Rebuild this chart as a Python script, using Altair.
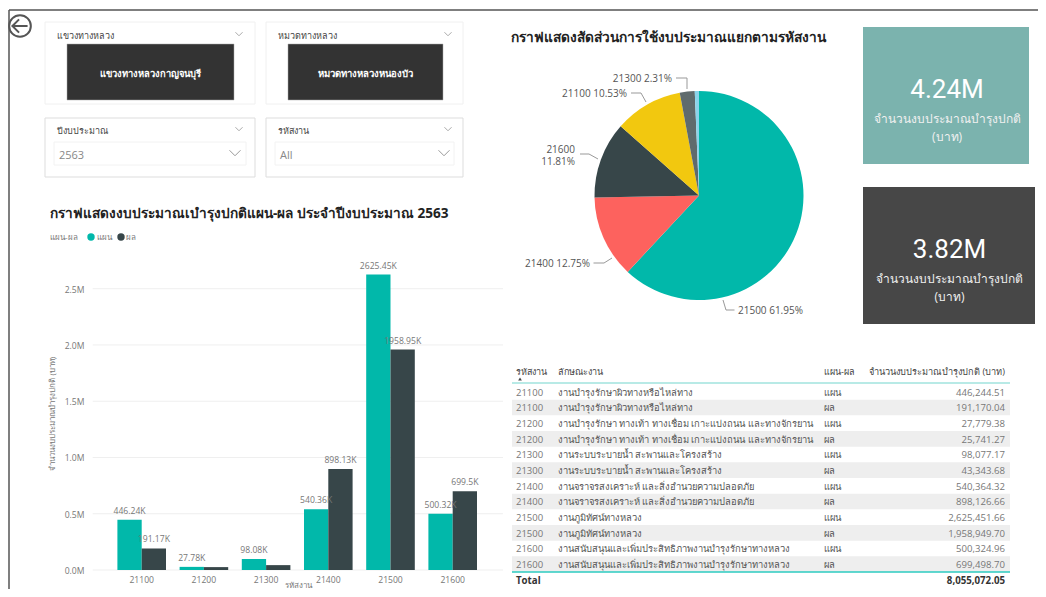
import math
import altair as alt
import pandas as pd

# ---------- data ----------
codes = ["21100", "21200", "21300", "21400", "21500", "21600"]
plan_values = [446244.51, 27779.38, 98077.17, 540364.32, 2625451.66, 500324.96]
actual_values = [191170.04, 25741.27, 43343.68, 898126.66, 1958949.70, 699498.70]
plan_labels = ["446.24K", "27.78K", "98.08K", "540.36K", "2625.45K", "500.32K"]
actual_labels = ["191.17K", "", "", "898.13K", "1958.95K", "699.5K"]
y_ticks = [0, 500000, 1000000, 1500000, 2000000, 2500000]
y_tick_labels = ["0.0M", "0.5M", "1.0M", "1.5M", "2.0M", "2.5M"]
series_names = ["แผน", "ผล"]

pie_codes = ["21500", "21400", "21600", "21100", "21300", "21200"]
pie_shares = [61.95, 12.75, 11.81, 10.53, 2.31, 0.65]
pie_colors = ["#01B8AA", "#FD625E", "#374649", "#F2C80F", "#5F6B6D", "#8AD4EB"]

tasks = ["งานบำรุงรักษาผิวทางหรือไหล่ทาง",
         "งานบำรุงรักษา ทางเท้า ทางเชื่อม เกาะแบ่งถนน และทางจักรยาน",
         "งานระบบระบายน้ำ สะพานและโครงสร้าง",
         "งานจราจรสงเคราะห์ และสิ่งอำนวยความปลอดภัย",
         "งานภูมิทัศน์ทางหลวง",
         "งานสนับสนุนและเพิ่มประสิทธิภาพงานบำรุงรักษาทางหลวง"]
table_plan = ["446,244.51", "27,779.38", "98,077.17", "540,364.32", "2,625,451.66", "500,324.96"]
table_actual = ["191,170.04", "25,741.27", "43,343.68", "898,126.66", "1,958,949.70", "699,498.70"]

FONT = "Open Sans"
W, H = 1030, 581
one = pd.DataFrame({"k": [0]})
layers = []


def P(v):  # screenshot pixel -> chart pixel
    return v - 8


def rect(x0, x1, y0, y1, fill="#FFFFFF", stroke=None, sw=1):
    kw = {"fill": fill}
    if stroke:
        kw.update(stroke=stroke, strokeWidth=sw)
    layers.append(alt.Chart(one).mark_rect(**kw).encode(
        x=alt.value(P(x0)), x2=alt.value(P(x1)), y=alt.value(P(y0)), y2=alt.value(P(y1))))


def seg(x0, y0, x1, y1, color="#999999", sw=1):
    layers.append(alt.Chart(one).mark_rule(color=color, strokeWidth=sw).encode(
        x=alt.value(P(x0)), x2=alt.value(P(x1)), y=alt.value(P(y0)), y2=alt.value(P(y1))))


def label(s, x, y, size=9, color="#666666", align="left", weight="normal", angle=0, font=FONT):
    kw = dict(fontSize=size, color=color, align=align, baseline="middle", fontWeight=weight, font=font)
    if angle:
        kw["angle"] = angle
    layers.append(alt.Chart(pd.DataFrame({"t": [s]})).mark_text(**kw).encode(
        x=alt.value(P(x)), y=alt.value(P(y) + 0.8), text="t:N"))


def chevron(x, y, size=64, color="#AAAAAA"):
    layers.append(alt.Chart(one).mark_point(
        shape="M-1,-0.5L0,0.5L1,-0.5", filled=False, stroke=color, strokeWidth=1, size=size, opacity=1).encode(
        x=alt.value(P(x)), y=alt.value(P(y))))


# ---------- frame ----------
seg(9, 10, 1038, 10, "#555555", 1.5)
seg(9, 10, 9, 589, "#555555", 1.5)
layers.append(alt.Chart(one).mark_point(filled=False, stroke="#555555", strokeWidth=2, size=470, opacity=1).encode(
    x=alt.value(P(20)), y=alt.value(P(26))))
layers.append(alt.Chart(one).mark_point(
    shape="M0.8,0L-0.8,0M-0.1,-0.7L-0.8,0L-0.1,0.7", filled=False, stroke="#555555", strokeWidth=2, size=360, opacity=1).encode(
    x=alt.value(P(20)), y=alt.value(P(26))))

# ---------- slicers ----------
for (x0, x1, y0, y1) in [(45, 255, 22, 104), (266, 463, 22, 104)]:
    rect(x0, x1, y0, y1, "#FFFFFF", "#F0F0F0", 1)
for (x0, x1, y0, y1) in [(45, 255, 118, 177), (266, 463, 118, 177)]:
    rect(x0, x1, y0, y1, "#FFFFFF", "#DDDDDD", 1)
rect(67, 234, 44, 100, "#333333", "#AAAAAA", 0.5)
rect(288, 443, 44, 100, "#333333", "#AAAAAA", 0.5)
rect(54, 246, 142, 165, "#FFFFFF", "#F2F2F2", 1)
rect(275, 454, 142, 165, "#FFFFFF", "#F2F2F2", 1)
label("แขวงทางหลวง", 57, 35, 9, "#444444")
label("หมวดทางหลวง", 278, 35, 9, "#444444")
label("ปีงบประมาณ", 57, 130, 9, "#444444")
label("รหัสงาน", 278, 130, 9, "#444444")
label("แขวงทางหลวงกาญจนบุรี", 150, 73, 9.4, "#FFFFFF", "center", "bold")
label("หมวดทางหลวงหนองบัว", 365, 73, 9.5, "#FFFFFF", "center", "bold")
label("2563", 59, 155, 11, "#888888")
label("All", 280, 155, 11, "#888888")
for (x, y) in [(239, 34), (448, 34), (239, 129), (448, 129)]:
    chevron(x, y, 50)
for (x, y) in [(235, 153), (444, 153)]:
    chevron(x, y, 121, "#999999")

# ---------- bar chart ----------
label("กราฟแสดงงบประมาณเบำรุงปกติแผน-ผล ประจำปีงบประมาณ  2563", 50, 213, 13.6, "#222222", weight="bold")
label("แผน-ผล", 50, 237, 8, "#777777")
label("แผน", 97, 237, 8, "#777777")
label("ผล", 126, 237, 8, "#777777")
for name, lx in zip(series_names, (91, 121)):
    layers.append(alt.Chart(pd.DataFrame({"s": [name]})).mark_circle(size=55, opacity=1).encode(
        x=alt.value(P(lx)), y=alt.value(P(237)),
        color=alt.Color("s:N", legend=None,
                        scale=alt.Scale(domain=series_names, range=["#01B8AA", "#374649"]))))

y_scale = alt.Scale(domain=[0, 2500000], range=[P(570), P(288.7)], nice=False, zero=True)
x_scale = alt.Scale(domain=codes, range=[P(110.6), P(483.8)], paddingInner=0.2186, paddingOuter=0.1093)
off_scale = alt.Scale(domain=series_names, range=[0, 48.6])

ticks_df = pd.DataFrame({"v": y_ticks, "t": y_tick_labels})
layers.append(alt.Chart(ticks_df).mark_rule(color="#EFEFEF", strokeWidth=1).encode(
    x=alt.value(P(92.7)), x2=alt.value(P(503)),
    y=alt.Y("v:Q", scale=y_scale, axis=None)))
layers.append(alt.Chart(ticks_df).mark_text(align="right", baseline="middle", fontSize=8.6, dy=0.8,
                                            color="#777777", font=FONT).encode(
    x=alt.value(P(84.5)), y=alt.Y("v:Q", scale=y_scale, axis=None), text="t:N"))

bars_df = pd.DataFrame({
    "code": codes * 2,
    "series": [series_names[0]] * 6 + [series_names[1]] * 6,
    "value": plan_values + actual_values,
    "lab": plan_labels + actual_labels,
})
layers.append(alt.Chart(bars_df).mark_bar().encode(
    x=alt.X("code:N", scale=x_scale, axis=None),
    xOffset=alt.XOffset("series:N", scale=off_scale),
    y=alt.Y("value:Q", scale=y_scale, axis=None),
    color=alt.Color("series:N", legend=None,
                    scale=alt.Scale(domain=series_names, range=["#01B8AA", "#374649"]))))
layers.append(alt.Chart(bars_df).mark_text(baseline="bottom", dy=-4, fontSize=8.6, color="#777777", font=FONT).encode(
    x=alt.X("code:N", scale=x_scale, axis=None),
    xOffset=alt.XOffset("series:N", scale=off_scale),
    y=alt.Y("value:Q", scale=y_scale, axis=None),
    text="lab:N"))
layers.append(alt.Chart(pd.DataFrame({"code": codes})).mark_text(baseline="middle", fontSize=8.6, color="#777777", font=FONT).encode(
    x=alt.X("code:N", scale=x_scale, axis=None), y=alt.value(P(579.5)), text="code:N"))
label("รหัสงาน", 298, 585, 8, "#777777", "center")
label("จำนวนงบประมาณบำรุงปกติ (บาท)", 53, 413, 8, "#777777", "center", angle=270)

# ---------- pie ----------
label("กราฟแสดงสัดส่วนการใช้งบประมาณแยกตามรหัสงาน", 511, 37, 13.7, "#222222", weight="bold")
pie_df = pd.DataFrame({"code": pie_codes, "share": pie_shares, "rank": list(range(6))})
layers.append(alt.Chart(pie_df).mark_arc(outerRadius=104.5).encode(
    theta=alt.Theta("share:Q", stack=True,
                    scale=alt.Scale(domain=[0, sum(pie_shares)], range=[0, 2 * math.pi], nice=False)),
    color=alt.Color("code:N", legend=None, scale=alt.Scale(domain=pie_codes, range=pie_colors)),
    order=alt.Order("rank:Q"),
    x=alt.value(P(699)), y=alt.value(P(195.5))))

for a, b, c in [((676, 78), (687, 78), (687, 89)),
                ((631, 93), (641, 93), (646, 102)),
                ((580, 154), (589, 154), (598, 159)),
                ((593.5, 263), (604, 263), (612, 258)),
                ((723, 300), (726, 310), (734.5, 310))]:
    seg(a[0], a[1], b[0], b[1], "#999999", 1)
    seg(b[0], b[1], c[0], c[1], "#999999", 1)
label("21300 2.31%", 672, 78, 10, "#555555", "right")
label("21100 10.53%", 627, 93, 10, "#555555", "right")
label("21600", 575, 149, 10, "#555555", "right")
label("11.81%", 575, 161, 10, "#555555", "right")
label("21400 12.75%", 590, 263, 10, "#555555", "right")
label("21500 61.95%", 738, 310, 10, "#555555")

# ---------- cards ----------
rect(863, 1029, 27, 164, "#7BB3AE")
rect(863, 1035, 187, 324, "#474747")
label("4.24M", 947, 89, 26, "#FFFFFF", "center", font="Roboto")
label("จำนวนงบประมาณบำรุงปกติ", 947, 118, 12, "#F0F0F0", "center")
label("(บาท)", 947, 136, 12, "#F0F0F0", "center")
label("3.82M", 949.5, 249, 26, "#FFFFFF", "center", font="Roboto")
label("จำนวนงบประมาณบำรุงปกติ", 949.5, 278, 12, "#F0F0F0", "center")
label("(บาท)", 949.5, 296, 12, "#F0F0F0", "center")

# ---------- table ----------
rows = []
for i, code in enumerate(codes):
    rows.append((code, tasks[i], series_names[0], table_plan[i]))
    rows.append((code, tasks[i], series_names[1], table_actual[i]))
table_df = pd.DataFrame(rows, columns=["code", "task", "series", "amount"])
table_df["row"] = range(len(table_df))
row_scale = alt.Scale(domain=list(range(12)), range=[P(384), P(572)], paddingInner=0, paddingOuter=0)
layers.append(alt.Chart(table_df[table_df["row"] % 2 == 1]).mark_rect(fill="#EEEEEE").encode(
    x=alt.value(P(512)), x2=alt.value(P(1010)),
    y=alt.Y("row:O", scale=row_scale, axis=None)))
for field, px, align, size, color in [("code", 516, "left", 9.5, "#777777"),
                                      ("task", 558, "left", 9.4, "#555555"),
                                      ("series", 824, "left", 9.4, "#555555"),
                                      ("amount", 1005, "right", 9.6, "#777777")]:
    layers.append(alt.Chart(table_df).mark_text(align=align, baseline="middle", fontSize=size, dy=0.8,
                                                color=color, font=FONT).encode(
        x=alt.value(P(px)), y=alt.Y("row:O", scale=row_scale, axis=None), text=f"{field}:N"))
label("รหัสงาน", 516, 371, 9, "#444444")
label("ลักษณะงาน", 558, 371, 9, "#444444")
label("แผน-ผล", 824, 371, 9, "#444444")
label("จำนวนงบประมาณบำรุงปกติ (บาท)", 1005, 371, 9.2, "#444444", "right")
layers.append(alt.Chart(one).mark_point(shape="triangle-up", filled=True, fill="#444444", size=14, opacity=1).encode(
    x=alt.value(P(520)), y=alt.value(P(379))))
seg(512, 383, 1010, 383, "#A0E3DE", 1.5)
seg(512, 572, 1010, 572, "#2CCBC0", 1.5)
label("Total", 516, 580, 9.7, "#333333", weight="bold")
label("8,055,072.05", 1005, 580, 9.7, "#333333", "right", "bold")

chart = alt.layer(*layers).resolve_scale(
    x="independent", y="independent", color="independent", theta="independent"
).properties(
    width=W, height=H, background="#FFFFFF", padding=0,
    autosize=alt.AutoSizeParams(type="none", contains="padding")
).configure_view(stroke=None)

chart.save("out.html", embed_options={"renderer": "svg", "actions": False})
